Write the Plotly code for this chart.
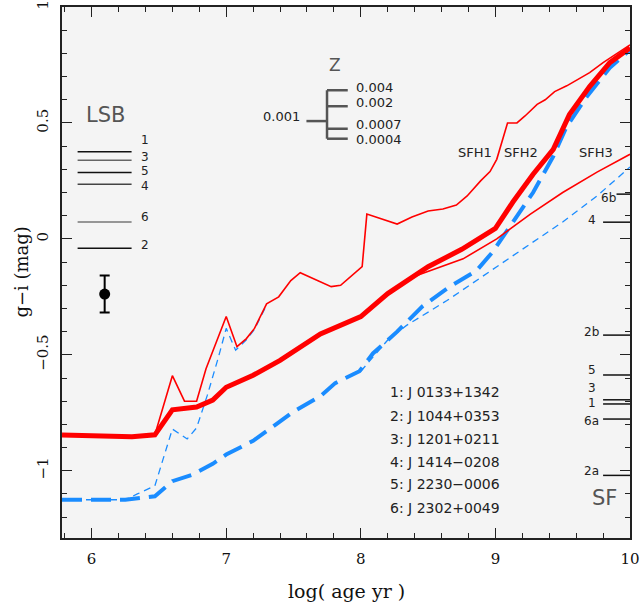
import plotly.graph_objects as go

# ---------------- data ----------------
age_sfh1_red = [5.78, 6.0, 6.3, 6.47, 6.60, 6.69, 6.78, 6.85, 7.00, 7.08, 7.15, 7.21, 7.30, 7.39,
                7.48, 7.55, 7.70, 7.78, 7.85, 8.01, 8.045, 8.16, 8.27, 8.38, 8.50, 8.61, 8.71,
                8.79, 8.89, 8.96, 9.01, 9.09, 9.16, 9.22, 9.31, 9.37, 9.44, 9.53, 9.61, 9.70,
                9.80, 9.90, 10.0]
gi_sfh1_red = [-0.846, -0.848, -0.853, -0.845, -0.59, -0.70, -0.70, -0.56, -0.335, -0.465, -0.43,
               -0.386, -0.28, -0.25, -0.18, -0.146, -0.185, -0.206, -0.20, -0.12, 0.107, 0.086,
               0.064, 0.094, 0.12, 0.129, 0.146, 0.185, 0.25, 0.29, 0.343, 0.50, 0.50, 0.53,
               0.58, 0.60, 0.635, 0.66, 0.687, 0.717, 0.76, 0.80, 0.837]

age_sfh1_blue = [5.78, 6.0, 6.25, 6.34, 6.47, 6.60, 6.71, 6.78, 6.86, 6.94, 7.00, 7.07, 7.15,
                 7.21, 7.30]
gi_sfh1_blue = [-1.125, -1.125, -1.125, -1.10, -1.065, -0.82, -0.863, -0.815, -0.674, -0.515,
                -0.386, -0.48, -0.435, -0.39, -0.285]

age_sfh2_red = [5.78, 6.0, 6.3, 6.47, 6.60, 6.78, 6.90, 7.00, 7.20, 7.40, 7.70, 8.00, 8.20,
                8.50, 8.75, 9.00, 9.13, 9.28, 9.43, 9.55, 9.70, 9.85, 10.0]
gi_sfh2_red = [-0.846, -0.848, -0.853, -0.845, -0.737, -0.725, -0.695, -0.64, -0.588, -0.524,
               -0.41, -0.335, -0.236, -0.12, -0.045, 0.045, 0.159, 0.279, 0.386, 0.536, 0.657,
               0.76, 0.824]

age_sfh2_blue = [5.78, 6.0, 6.25, 6.47, 6.60, 6.75, 6.90, 7.00, 7.20, 7.37, 7.50, 7.70, 7.81,
                 7.99, 8.09, 8.27, 8.46, 8.66, 8.86, 8.98, 9.06, 9.16, 9.28, 9.43, 9.53, 9.68,
                 9.85, 10.0]
gi_sfh2_blue = [-1.125, -1.125, -1.125, -1.11, -1.045, -1.017, -0.97, -0.93, -0.871, -0.80,
                -0.745, -0.678, -0.622, -0.571, -0.494, -0.40, -0.29, -0.206, -0.137, -0.056,
                0.013, 0.099, 0.20, 0.356, 0.485, 0.614, 0.738, 0.815]

age_sfh3_red = [8.0, 8.2, 8.39, 8.76, 9.01, 9.26, 9.50, 9.755, 10.0]
gi_sfh3_red = [-0.335, -0.236, -0.163, -0.086, 0.0, 0.107, 0.20, 0.288, 0.365]

age_sfh3_blue = [8.0, 8.2, 8.34, 8.64, 9.01, 9.26, 9.50, 9.755, 10.0]
gi_sfh3_blue = [-0.571, -0.436, -0.373, -0.266, -0.12, -0.02, 0.073, 0.185, 0.31]

# LSB observed colours
lsb_ids = ["1", "3", "5", "4", "6", "2"]
lsb_gi = [0.376, 0.339, 0.286, 0.236, 0.073, -0.040]
lsb_label_y = [0.427, 0.355, 0.292, 0.230, 0.093, -0.026]
lsb_colors = ["#111111", "#666666", "#111111", "#444444", "#777777", "#111111"]

# typical error bar
err_age = [6.097]
err_gi = [-0.238]
err_size = [0.080]

# star-forming regions
sf_ids = ["6b", "4", "2b", "5", "3", "1", "6a", "2a"]
sf_gi = [0.193, 0.072, -0.415, -0.587, -0.694, -0.712, -0.777, -1.020]
sf_label_y = [0.176, 0.082, -0.400, -0.567, -0.645, -0.706, -0.786, -1.001]

# metallicity tree
z_values = ["0.004", "0.002", "0.0007", "0.0004"]
z_gi = [0.641, 0.572, 0.475, 0.432]
z_label_gi = [0.655, 0.588, 0.495, 0.428]
z_base = "0.001"
z_base_gi = 0.508

# object list
obj_names = ["1: J 0133+1342", "2: J 1044+0353", "3: J 1201+0211",
             "4: J 1414\u22120208", "5: J 2230\u22120006", "6: J 2302+0049"]
obj_gi = [-0.662, -0.763, -0.863, -0.963, -1.059, -1.162]

sfh_names = ["SFH1", "SFH2", "SFH3"]
sfh_label_age = [8.845, 9.19, 9.75]

RED = "#ff0000"
BLUE = "#1a8cff"
SANS = "DejaVu Sans"
SERIF = "DejaVu Serif"

fig = go.Figure()

# model tracks
fig.add_trace(go.Scatter(x=age_sfh1_blue, y=gi_sfh1_blue, mode="lines",
                         line=dict(color=BLUE, width=1.3, dash="7px,5px")))
fig.add_trace(go.Scatter(x=age_sfh3_blue, y=gi_sfh3_blue, mode="lines",
                         line=dict(color=BLUE, width=1.3, dash="7px,5px")))
fig.add_trace(go.Scatter(x=age_sfh2_blue, y=gi_sfh2_blue, mode="lines",
                         line=dict(color=BLUE, width=4, dash="20px,9px")))
fig.add_trace(go.Scatter(x=age_sfh1_red, y=gi_sfh1_red, mode="lines",
                         line=dict(color=RED, width=1.6)))
fig.add_trace(go.Scatter(x=age_sfh3_red, y=gi_sfh3_red, mode="lines",
                         line=dict(color=RED, width=1.6)))
fig.add_trace(go.Scatter(x=age_sfh2_red, y=gi_sfh2_red, mode="lines",
                         line=dict(color=RED, width=5)))

# error bar
fig.add_trace(go.Scatter(x=err_age, y=err_gi, mode="markers",
                         marker=dict(color="black", size=11),
                         error_y=dict(type="data", array=err_size, color="black",
                                      thickness=2, width=5)))

shapes = []
annotations = []

# LSB lines and labels
for name, g, ly, c in zip(lsb_ids, lsb_gi, lsb_label_y, lsb_colors):
    shapes.append(dict(type="line", xref="x", yref="y", x0=5.896, x1=6.297, y0=g, y1=g,
                       line=dict(color=c, width=1.5)))
    annotations.append(dict(x=6.40, y=ly, xref="x", yref="y", text=name, showarrow=False,
                            xanchor="center", yanchor="middle",
                            font=dict(family=SANS, size=12, color="#222")))
annotations.append(dict(x=6.10, y=0.535, xref="x", yref="y", text="LSB", showarrow=False,
                        xanchor="center", yanchor="middle",
                        font=dict(family=SANS, size=21, color="#555")))

# SF lines and labels
for name, g, ly in zip(sf_ids, sf_gi, sf_label_y):
    x0 = 9.90 if name == "6b" else 9.80
    lx = 9.84 if name == "6b" else 9.714
    shapes.append(dict(type="line", xref="x", yref="y", x0=x0, x1=10.0, y0=g, y1=g,
                       line=dict(color="#111", width=1.5)))
    annotations.append(dict(x=lx, y=ly, xref="x", yref="y", text=name, showarrow=False,
                            xanchor="center", yanchor="middle",
                            font=dict(family=SANS, size=12, color="#222")))
annotations.append(dict(x=9.81, y=-1.116, xref="x", yref="y", text="SF", showarrow=False,
                        xanchor="center", yanchor="middle",
                        font=dict(family=SANS, size=21, color="#555")))

# metallicity tree
ZC = "#555555"
shapes.append(dict(type="line", xref="x", yref="y", x0=7.749, x1=7.749,
                   y0=min(z_gi), y1=max(z_gi), line=dict(color=ZC, width=2.5)))
shapes.append(dict(type="line", xref="x", yref="y", x0=7.596, x1=7.749,
                   y0=z_base_gi, y1=z_base_gi, line=dict(color=ZC, width=2.5)))
for v, g, lg in zip(z_values, z_gi, z_label_gi):
    shapes.append(dict(type="line", xref="x", yref="y", x0=7.749, x1=7.903, y0=g, y1=g,
                       line=dict(color=ZC, width=2.5)))
    annotations.append(dict(x=7.95, y=lg, xref="x", yref="y", text=v, showarrow=False,
                            xanchor="left", yanchor="middle",
                            font=dict(family=SANS, size=13, color="#222")))
annotations.append(dict(x=7.565, y=z_base_gi + 0.02, xref="x", yref="y", text=z_base,
                        showarrow=False, xanchor="right", yanchor="middle",
                        font=dict(family=SANS, size=13, color="#222")))
annotations.append(dict(x=7.807, y=0.751, xref="x", yref="y", text="Z", showarrow=False,
                        xanchor="center", yanchor="middle",
                        font=dict(family=SANS, size=17, color="#555")))

# SFH labels
for n, a in zip(sfh_names, sfh_label_age):
    annotations.append(dict(x=a, y=0.373, xref="x", yref="y", text=n, showarrow=False,
                            xanchor="center", yanchor="middle",
                            font=dict(family=SANS, size=13, color="#222")))

# object list
for n, g in zip(obj_names, obj_gi):
    annotations.append(dict(x=8.205, y=g, xref="x", yref="y", text=n, showarrow=False,
                            xanchor="left", yanchor="middle",
                            font=dict(family=SANS, size=14, color="#222")))

# axis titles (placed in paper coordinates)
annotations.append(dict(x=0.5, y=-0.10, xref="paper", yref="paper", text="log( age yr )",
                        showarrow=False, xanchor="center", yanchor="middle",
                        font=dict(family=SERIF, size=19, color="#111")))
annotations.append(dict(x=-0.072, y=0.5, xref="paper", yref="paper", text="g\u2212i (mag)",
                        showarrow=False, xanchor="center", yanchor="middle", textangle=-90,
                        font=dict(family=SERIF, size=18, color="#111")))

fig.update_layout(
    width=642, height=607,
    margin=dict(l=62, r=12, t=7, b=69, autoexpand=False),
    paper_bgcolor="white",
    plot_bgcolor="#f4f4f4",
    showlegend=False,
    shapes=shapes,
    annotations=annotations,
)

fig.update_xaxes(
    range=[5.78, 10.0], showgrid=False, zeroline=False, automargin=False,
    showline=True, linecolor="#222", linewidth=2, mirror="allticks",
    ticks="inside", ticklen=10, tickwidth=1.2, tickcolor="#222",
    tickvals=[6, 7, 8, 9, 10], ticktext=["6", "7", "8", "9", "10"],
    minor=dict(dtick=0.2, tick0=6, ticks="inside", ticklen=5, tickwidth=1, tickcolor="#222"),
    tickfont=dict(family=SERIF, size=15, color="#111"),
    ticklabelstandoff=6, ticklabeloverflow="allow",
)
fig.update_yaxes(
    range=[-1.29, 1.0], showgrid=False, zeroline=False, automargin=False,
    showline=True, linecolor="#222", linewidth=2, mirror="allticks",
    ticks="inside", ticklen=10, tickwidth=1.2, tickcolor="#222",
    tickvals=[-1, -0.5, 0, 0.5, 1], ticktext=["\u22121", "\u22120.5", "0", "0.5", "1"],
    tickangle=-90,
    minor=dict(dtick=0.1, tick0=0, ticks="inside", ticklen=5, tickwidth=1, tickcolor="#222"),
    tickfont=dict(family=SERIF, size=15, color="#111"),
    ticklabelstandoff=6, ticklabeloverflow="allow",
)

fig.write_html("out.html", config={"displayModeBar": False},
               post_script="document.body.style.margin='0';document.body.style.overflow='hidden';")
